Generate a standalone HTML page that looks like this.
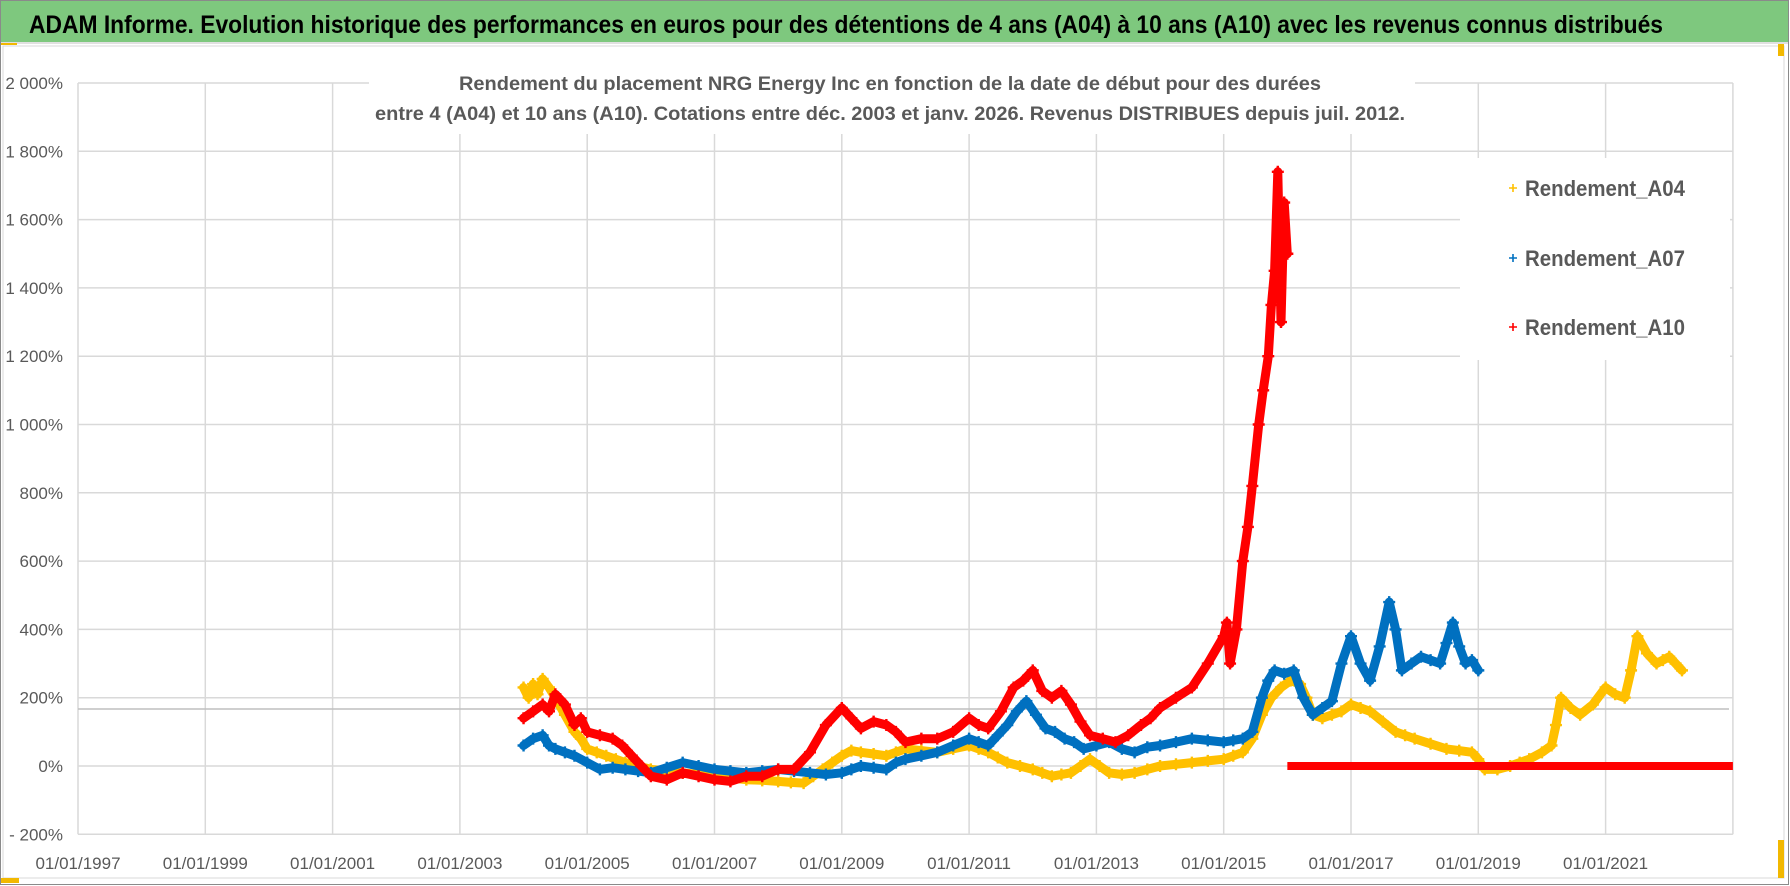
<!DOCTYPE html>
<html><head><meta charset="utf-8">
<style>
html,body{margin:0;padding:0;background:#fff;}
svg{display:block;font-family:"Liberation Sans",sans-serif;}
</style></head>
<body>
<svg id="chart" width="1790" height="886" viewBox="0 0 1790 886" xmlns="http://www.w3.org/2000/svg">
  <rect x="0.5" y="0.5" width="1788" height="884" fill="#fff" stroke="#8a8a8a"/>
  <rect x="1" y="1" width="1787" height="41" fill="#7ec87e"/>
  <line x1="1" y1="43" x2="1788" y2="43" stroke="#e0e0e0" stroke-width="2"/>
  <text x="29" y="33" font-size="25" font-weight="bold" fill="#000" textLength="1634" lengthAdjust="spacingAndGlyphs">ADAM Informe. Evolution historique des performances en euros pour des détentions de 4 ans (A04) à 10 ans (A10) avec les revenus connus distribués</text>
  <rect x="3" y="46" width="1781" height="832" fill="none" stroke="#d9d9d9"/>
  <rect x="1778" y="44" width="6" height="12" fill="#f2b800"/>
  <rect x="1778" y="840" width="6" height="38" fill="#f2b800"/>
  <rect x="1" y="878" width="18" height="5" fill="#f2b800"/>
  <rect x="1" y="43" width="16" height="2" fill="#f2b800"/>
  <g id="grid"></g>
  <line x1="78" y1="709" x2="1729" y2="709" stroke="#bfbfbf" stroke-width="1.5"/>
  <g id="ylabels"></g>
  <g id="xlabels"></g>
  <rect x="369" y="58" width="1046" height="76" fill="#fff"/>
  <text x="890" y="90" font-size="19" font-weight="bold" fill="#595959" text-anchor="middle" textLength="862" lengthAdjust="spacingAndGlyphs">Rendement du placement NRG Energy Inc en fonction de la date de début pour des durées</text>
  <text x="890" y="120" font-size="19" font-weight="bold" fill="#595959" text-anchor="middle" textLength="1030" lengthAdjust="spacingAndGlyphs">entre 4 (A04) et 10 ans (A10). Cotations entre déc. 2003 et janv. 2026. Revenus DISTRIBUES depuis juil. 2012.</text>
  <rect x="1460" y="158" width="270" height="202" fill="#fff"/>
  <g id="series"></g>
  <g id="legend">
    <g>
      <path d="M1509 188h8M1513 184v8" stroke="#ffc000" stroke-width="1.6"/>
      <text x="1525" y="196" font-size="22" font-weight="bold" fill="#595959" textLength="160" lengthAdjust="spacingAndGlyphs">Rendement_A04</text>
    </g>
    <g>
      <path d="M1509 258h8M1513 254v8" stroke="#0070c0" stroke-width="1.6"/>
      <text x="1525" y="266" font-size="22" font-weight="bold" fill="#595959" textLength="160" lengthAdjust="spacingAndGlyphs">Rendement_A07</text>
    </g>
    <g>
      <path d="M1509 327h8M1513 323v8" stroke="#ff0000" stroke-width="1.6"/>
      <text x="1525" y="335" font-size="22" font-weight="bold" fill="#595959" textLength="160" lengthAdjust="spacingAndGlyphs">Rendement_A10</text>
    </g>
  </g>
</svg>
<script>
// ---- data ----
const yTicks = [-200,0,200,400,600,800,1000,1200,1400,1600,1800,2000];
const yTickLabels = ["- 200%","0%","200%","400%","600%","800%","1 000%","1 200%","1 400%","1 600%","1 800%","2 000%"];
const xTickYears = [1997,1999,2001,2003,2005,2007,2009,2011,2013,2015,2017,2019,2021];
const xTickLabels = ["01/01/1997","01/01/1999","01/01/2001","01/01/2003","01/01/2005","01/01/2007","01/01/2009","01/01/2011","01/01/2013","01/01/2015","01/01/2017","01/01/2019","01/01/2021"];

const a04Dates = [2004.0,2004.08,2004.15,2004.22,2004.3,2004.4,2004.5,2004.65,2004.8,2004.9,2005.0,2005.15,2005.3,2005.45,2005.6,2005.8,2006.0,2006.25,2006.5,2006.75,2007.0,2007.25,2007.5,2007.75,2008.0,2008.2,2008.4,2008.55,2008.7,2008.85,2009.0,2009.15,2009.3,2009.5,2009.7,2009.85,2010.0,2010.25,2010.5,2010.75,2011.0,2011.15,2011.3,2011.45,2011.6,2011.8,2012.0,2012.15,2012.3,2012.45,2012.6,2012.75,2012.9,2013.05,2013.2,2013.4,2013.6,2013.8,2014.0,2014.25,2014.5,2014.75,2015.0,2015.15,2015.3,2015.45,2015.6,2015.75,2015.9,2016.05,2016.2,2016.3,2016.4,2016.55,2016.7,2016.85,2017.0,2017.15,2017.3,2017.5,2017.7,2017.85,2018.0,2018.25,2018.5,2018.7,2018.9,2019.0,2019.1,2019.3,2019.5,2019.65,2019.8,2020.0,2020.15,2020.22,2020.3,2020.45,2020.6,2020.8,2021.0,2021.15,2021.3,2021.4,2021.5,2021.65,2021.8,2021.9,2022.0,2022.1,2022.2];
const a04Values = [230,200,240,210,255,230,200,150,100,80,50,40,30,20,10,0,-10,-15,-20,-25,-30,-35,-40,-42,-45,-48,-50,-30,-10,10,30,45,40,35,30,40,50,45,40,50,60,50,40,25,10,0,-10,-20,-30,-25,-20,0,20,0,-20,-25,-20,-10,0,5,10,15,20,30,40,80,150,200,230,250,240,200,150,140,150,160,180,170,160,130,100,90,80,65,50,45,40,20,-10,-10,0,10,20,40,60,120,200,170,150,180,230,210,200,280,380,330,300,310,320,300,280];

const a07Dates = [2004.0,2004.15,2004.3,2004.4,2004.5,2004.65,2004.8,2005.0,2005.2,2005.4,2005.6,2005.8,2006.0,2006.25,2006.5,2006.75,2007.0,2007.25,2007.5,2007.75,2008.0,2008.25,2008.5,2008.75,2009.0,2009.15,2009.3,2009.5,2009.7,2009.85,2010.0,2010.25,2010.5,2010.75,2011.0,2011.15,2011.3,2011.45,2011.6,2011.75,2011.9,2012.05,2012.2,2012.35,2012.5,2012.65,2012.8,2013.0,2013.2,2013.4,2013.6,2013.8,2014.0,2014.25,2014.5,2014.75,2015.0,2015.15,2015.3,2015.45,2015.6,2015.7,2015.8,2015.95,2016.1,2016.25,2016.4,2016.55,2016.7,2016.85,2017.0,2017.15,2017.3,2017.45,2017.6,2017.7,2017.8,2017.95,2018.1,2018.25,2018.4,2018.5,2018.6,2018.7,2018.8,2018.9,2019.0];
const a07Values = [60,80,90,60,50,40,30,10,-10,-5,-10,-15,-20,-5,10,0,-10,-15,-20,-15,-10,-15,-20,-25,-20,-10,0,-5,-10,10,20,30,40,60,80,70,60,90,120,160,190,150,110,100,80,70,50,60,70,50,40,55,60,70,80,75,70,75,80,100,200,250,280,270,280,200,150,170,190,300,380,300,250,350,480,400,280,300,320,310,300,360,420,350,300,310,280];

const a10Dates = [2004.0,2004.15,2004.3,2004.4,2004.5,2004.65,2004.8,2004.9,2005.0,2005.2,2005.4,2005.55,2005.7,2005.85,2006.0,2006.25,2006.5,2006.75,2007.0,2007.25,2007.5,2007.75,2008.0,2008.25,2008.5,2008.75,2009.0,2009.15,2009.3,2009.5,2009.7,2009.85,2010.0,2010.25,2010.5,2010.75,2011.0,2011.15,2011.3,2011.5,2011.7,2011.85,2012.0,2012.15,2012.3,2012.45,2012.6,2012.75,2012.9,2013.1,2013.3,2013.5,2013.7,2013.85,2014.0,2014.25,2014.5,2014.75,2015.0,2015.05,2015.1,2015.2,2015.3,2015.38,2015.45,2015.55,2015.62,2015.7,2015.75,2015.8,2015.85,2015.9,2015.95,2016.0];
const a10Values = [140,160,180,160,210,180,120,140,100,90,80,60,30,0,-30,-40,-20,-30,-40,-45,-30,-30,-10,-10,40,120,170,140,110,130,120,100,70,80,80,100,140,120,110,160,230,250,280,220,200,220,180,130,90,80,70,90,120,140,170,200,230,300,380,420,300,400,600,700,820,1000,1100,1200,1350,1450,1740,1300,1650,1500];
const a10ZeroStart = 2016.0, a10ZeroEnd = 2023.0;

// ---- axes ----
const X0 = 78, PX_PER_YEAR = 63.65, Y0 = 766, PX_PER_PCT = 0.3415;
const xs = t => X0 + (t - 1997) * PX_PER_YEAR;
const ys = v => Y0 - v * PX_PER_PCT;
const NS = "http://www.w3.org/2000/svg";
function mk(tag, attrs, parent){ const e=document.createElementNS(NS,tag); for(const k in attrs) e.setAttribute(k,attrs[k]); parent.appendChild(e); return e; }

const grid = document.getElementById('grid');
yTicks.forEach(v => {
  const l = mk('line',{x1:X0,x2:xs(2023),y1:ys(v),y2:ys(v),stroke:'#d9d9d9','stroke-width':1.5},grid);
  
  
});
xTickYears.concat([2023]).forEach(t => {
  const l = mk('line',{x1:xs(t),x2:xs(t),y1:ys(2000),y2:ys(-200),stroke:'#d9d9d9','stroke-width':1.5},grid);
  
  
});
const yl = document.getElementById('ylabels');
yTicks.forEach((v,i) => {
  const t = mk('text',{x:63,y:ys(v)+6,'font-size':17,fill:'#595959','text-anchor':'end'},yl);
  t.textContent = yTickLabels[i];
  
  
});
const xl = document.getElementById('xlabels');
xTickYears.forEach((y,i) => {
  const t = mk('text',{x:xs(y),y:869,'font-size':17,fill:'#595959','text-anchor':'middle'},xl);
  t.textContent = xTickLabels[i];
  
  
});

// ---- series ----
const sg = document.getElementById('series');
function drawSeries(dates, vals, color, name){
  const g = mk('g',{},sg);
  
  
  const pts = dates.map((d,i)=> xs(d).toFixed(1)+','+ys(vals[i]).toFixed(1)).join(' ');
  mk('polyline',{points:pts,fill:'none',stroke:color,'stroke-width':9,'stroke-linejoin':'round','stroke-linecap':'round'},g);
  dates.forEach((d,i)=>{
    const x=xs(d), y=ys(vals[i]);
    const p = mk('path',{d:`M${x-6} ${y}h12M${x} ${y-6}v12`,stroke:color,'stroke-width':2.4},g);
    
    
  });
}
drawSeries(a04Dates,a04Values,'#ffc000','series-a04');
drawSeries(a07Dates,a07Values,'#0070c0','series-a07');
drawSeries(a10Dates,a10Values,'#ff0000','series-a10');
const z = mk('line',{x1:xs(a10ZeroStart),x2:xs(a10ZeroEnd),y1:ys(0),y2:ys(0),stroke:'#ff0000','stroke-width':8},sg);


</script>
</body></html>
